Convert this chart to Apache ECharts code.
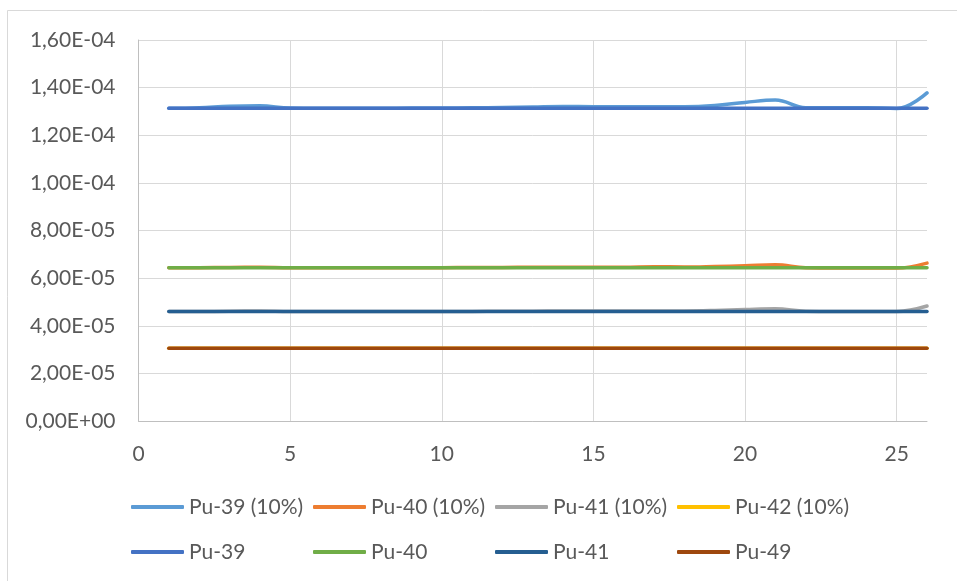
<!DOCTYPE html>
<html>
<head>
<meta charset="utf-8">
<script src="https://cdn.jsdelivr.net/npm/echarts@6/dist/echarts.min.js"></script>
<style>
html,body{margin:0;padding:0;background:#fff;}
#chart{width:957px;height:581px;}
</style>
</head>
<body>
<div id="chart"></div>
<script>
var xValues = [1,2,3,4,5,6,7,8,9,10,11,12,13,14,15,16,17,18,19,20,21,22,23,24,25,26];

var pu39_10 = [1.313e-4,1.316e-4,1.322e-4,1.324e-4,1.314e-4,1.313e-4,1.313e-4,1.313e-4,1.314e-4,1.314e-4,1.315e-4,1.317e-4,1.319e-4,1.321e-4,1.320e-4,1.320e-4,1.320e-4,1.320e-4,1.325e-4,1.338e-4,1.348e-4,1.316e-4,1.315e-4,1.316e-4,1.312e-4,1.378e-4];
var pu40_10 = [6.44e-5,6.44e-5,6.45e-5,6.46e-5,6.44e-5,6.44e-5,6.44e-5,6.44e-5,6.44e-5,6.44e-5,6.45e-5,6.45e-5,6.46e-5,6.46e-5,6.46e-5,6.46e-5,6.48e-5,6.47e-5,6.49e-5,6.52e-5,6.56e-5,6.44e-5,6.43e-5,6.43e-5,6.42e-5,6.63e-5];
var pu41_10 = [4.60e-5,4.60e-5,4.61e-5,4.62e-5,4.60e-5,4.60e-5,4.60e-5,4.60e-5,4.60e-5,4.60e-5,4.60e-5,4.61e-5,4.61e-5,4.62e-5,4.62e-5,4.62e-5,4.62e-5,4.62e-5,4.64e-5,4.68e-5,4.71e-5,4.61e-5,4.60e-5,4.60e-5,4.60e-5,4.83e-5];
var pu42_10 = [3.06e-5,3.06e-5,3.06e-5,3.06e-5,3.06e-5,3.06e-5,3.06e-5,3.06e-5,3.06e-5,3.06e-5,3.06e-5,3.06e-5,3.06e-5,3.06e-5,3.06e-5,3.06e-5,3.06e-5,3.06e-5,3.06e-5,3.06e-5,3.06e-5,3.06e-5,3.06e-5,3.06e-5,3.06e-5,3.06e-5];
var pu39 = [1.313e-4,1.313e-4,1.313e-4,1.313e-4,1.313e-4,1.313e-4,1.313e-4,1.313e-4,1.313e-4,1.313e-4,1.313e-4,1.313e-4,1.313e-4,1.313e-4,1.313e-4,1.313e-4,1.313e-4,1.313e-4,1.313e-4,1.313e-4,1.313e-4,1.313e-4,1.313e-4,1.313e-4,1.313e-4,1.313e-4];
var pu40 = [6.44e-5,6.44e-5,6.44e-5,6.44e-5,6.44e-5,6.44e-5,6.44e-5,6.44e-5,6.44e-5,6.44e-5,6.44e-5,6.44e-5,6.44e-5,6.44e-5,6.44e-5,6.44e-5,6.44e-5,6.44e-5,6.44e-5,6.44e-5,6.44e-5,6.44e-5,6.44e-5,6.44e-5,6.44e-5,6.44e-5];
var pu41 = [4.60e-5,4.60e-5,4.60e-5,4.60e-5,4.60e-5,4.60e-5,4.60e-5,4.60e-5,4.60e-5,4.60e-5,4.60e-5,4.60e-5,4.60e-5,4.60e-5,4.60e-5,4.60e-5,4.60e-5,4.60e-5,4.60e-5,4.60e-5,4.60e-5,4.60e-5,4.60e-5,4.60e-5,4.60e-5,4.60e-5];
var pu49 = [3.06e-5,3.06e-5,3.06e-5,3.06e-5,3.06e-5,3.06e-5,3.06e-5,3.06e-5,3.06e-5,3.06e-5,3.06e-5,3.06e-5,3.06e-5,3.06e-5,3.06e-5,3.06e-5,3.06e-5,3.06e-5,3.06e-5,3.06e-5,3.06e-5,3.06e-5,3.06e-5,3.06e-5,3.06e-5,3.06e-5];

var seriesNames = ['Pu-39 (10%)','Pu-40 (10%)','Pu-41 (10%)','Pu-42 (10%)','Pu-39','Pu-40','Pu-41','Pu-49'];
var seriesData = [pu39_10, pu40_10, pu41_10, pu42_10, pu39, pu40, pu41, pu49];
var seriesColors = ['#5B9BD5','#ED7D31','#A5A5A5','#FFC000','#4472C4','#70AD47','#255E91','#9E480E'];

var FONT = 'Lato';
var TXT = '#595959';

function sciLabel(v) {
  if (v === 0) return '0,00E+00';
  var e = Math.floor(Math.log10(Math.abs(v)) + 1e-9);
  var m = v / Math.pow(10, e);
  m = Math.round(m * 100) / 100;
  if (m >= 10) { m = m / 10; e += 1; }
  var es = (e < 0 ? '-' : '+') + (Math.abs(e) < 10 ? '0' : '') + Math.abs(e);
  return m.toFixed(2).replace('.', ',') + 'E' + es;
}

var chart = echarts.init(document.getElementById('chart'), null, {renderer: 'canvas'});

var series = seriesNames.map(function (name, i) {
  return {
    name: name,
    type: 'line',
    data: xValues.map(function (x, j) { return [x, seriesData[i][j]]; }),
    smooth: 0.4,
    showSymbol: false,
    symbol: 'none',
    lineStyle: { color: seriesColors[i], width: 3.5, cap: 'round', join: 'round' },
    itemStyle: { color: seriesColors[i] },
    z: 2 + i,
    silent: true
  };
});

var colX = [131, 313, 495, 677];
var rowY = [495, 540];
var legends = seriesNames.map(function (name, i) {
  return {
    data: [name],
    left: colX[i % 4],
    top: rowY[Math.floor(i / 4)],
    orient: 'horizontal',
    padding: 0,
    itemWidth: 53,
    itemHeight: 4,
    icon: 'roundRect',
    selectedMode: false,
    textStyle: { fontFamily: FONT, fontSize: 21, color: TXT, lineHeight: 24 }
  };
});

var option = {
  backgroundColor: '#ffffff',
  animation: false,
  textStyle: { fontFamily: FONT },
  graphic: [{
    type: 'rect',
    shape: { x: 7.5, y: 10.5, width: 1200, height: 1000 },
    style: { fill: 'none', stroke: '#D9D9D9', lineWidth: 1 },
    silent: true,
    z: -10
  }],
  legend: legends,
  grid: { left: 138.5, right: 30, top: 40, bottom: 160, containLabel: false },
  xAxis: {
    type: 'value',
    min: 0,
    max: 26,
    interval: 5,
    axisLine: { show: true, lineStyle: { color: '#BFBFBF', width: 1 } },
    axisTick: { show: false },
    splitLine: { show: true, lineStyle: { color: ['#D9D9D9','#D9D9D9','#D9D9D9','#D9D9D9','#D9D9D9','#D9D9D9','rgba(0,0,0,0)'], width: 1 } },
    axisLabel: {
      margin: 23,
      fontFamily: FONT,
      fontSize: 21,
      color: TXT,
      formatter: function (v) { return (v % 5 === 0) ? String(v) : ''; }
    }
  },
  yAxis: {
    type: 'value',
    min: 0,
    max: 1.6e-4,
    interval: 2e-5,
    axisLine: { show: true, lineStyle: { color: '#BFBFBF', width: 1 } },
    axisTick: { show: false },
    splitLine: { show: true, lineStyle: { color: '#D9D9D9', width: 1 } },
    axisLabel: {
      margin: 23,
      fontFamily: FONT,
      fontSize: 21,
      color: TXT,
      formatter: sciLabel
    }
  },
  series: series
};

chart.setOption(option);
</script>
</body>
</html>
